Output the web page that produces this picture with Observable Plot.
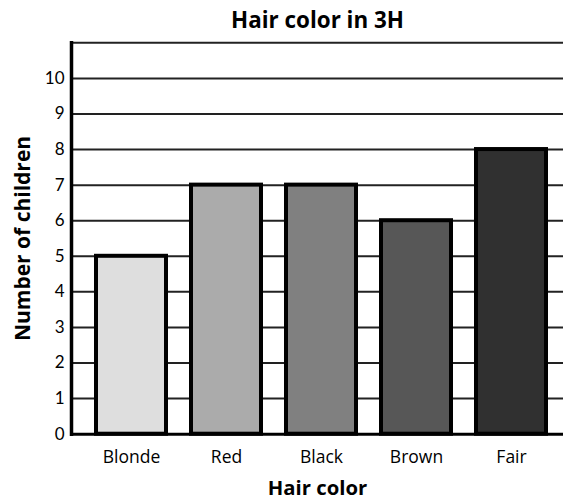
<!DOCTYPE html>
<html><head><meta charset="utf-8">
<script src="https://cdn.jsdelivr.net/npm/d3@7"></script>
<script src="https://cdn.jsdelivr.net/npm/@observablehq/plot@0.6"></script>
<style>body{margin:0;background:#fff}</style>
</head><body><div id="chart"></div>
<script>
const categories = ["Blonde", "Red", "Black", "Brown", "Fair"];
const counts = [5, 7, 7, 6, 8];
const fills = ["#dedede", "#ababab", "#808080", "#575757", "#303030"];
const yTicks = [0,1,2,3,4,5,6,7,8,9,10];
const gridLines = [1,2,3,4,5,6,7,8,9,10,11];
const title = "Hair color in 3H";
const xLabel = "Hair color";
const yLabel = "Number of children";

const data = categories.map((c, i) => ({cat: c, n: counts[i], fill: fills[i]}));

const chart = Plot.plot({
  width: 563, height: 500,
  marginLeft: 71, marginRight: 0, marginTop: 42.3, marginBottom: 66.3,
  style: {fontFamily: "Open Sans", fontSize: "15px", color: "#000", background: "#fff"},
  x: {domain: categories, range: [71, 570], paddingInner: 0.265, paddingOuter: 0.252, label: null},
  y: {domain: [0, 11], label: null},
  marks: [
    Plot.ruleY(gridLines, {stroke: "#222", strokeWidth: 2}),
    Plot.barY(data, {x: "cat", y: "n", fill: "fill", stroke: "#000", strokeWidth: 4}),
    Plot.ruleY([0], {stroke: "#000", strokeWidth: 3}),
    Plot.axisY({ticks: yTicks, tickSize: 0, tickPadding: 7, tickFormat: d => d, fontSize: 17, fontFamily: "Lato"}),
    Plot.axisX({tickSize: 0, tickPadding: 16, fontSize: 17.5, fontFamily: "Open Sans"}),
    Plot.text([title], {frameAnchor: "top", dy: -22, lineAnchor: "middle", fontSize: 22.4, fontWeight: "bold", fontFamily: "Open Sans"}),
    Plot.text([xLabel], {frameAnchor: "bottom", dy: 54, lineAnchor: "middle", fontSize: 20.3, fontWeight: "bold", fontFamily: "Open Sans"}),
    Plot.text([yLabel], {frameAnchor: "left", dx: -48, textAnchor: "middle", rotate: -90, fontSize: 21, fontWeight: "bold", fontFamily: "Open Sans"}),
    Plot.frame({anchor: "left", stroke: "#000", strokeWidth: 3.5})
  ]
});
document.getElementById("chart").appendChild(chart);
</script>
</body></html>
